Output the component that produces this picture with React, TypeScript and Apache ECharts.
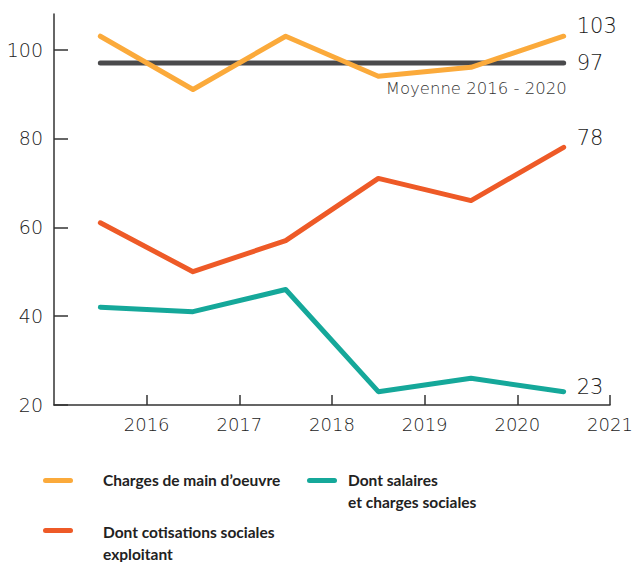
import React, { useEffect, useRef } from "react";
import * as echarts from "echarts";

// Positions on the time axis (mid-year) and the three cost series
const periods = [2015.5, 2016.5, 2017.5, 2018.5, 2019.5, 2020.5];
const chargesMainOeuvre = [103, 91, 103, 94, 96, 103];
const cotisationsExploitant = [61, 50, 57, 71, 66, 78];
const salairesCharges = [42, 41, 46, 23, 26, 23];
const moyenne = 97;
const moyenneLabel = "Moyenne 2016 - 2020";
const yearTicks = [2016, 2017, 2018, 2019, 2020, 2021];
const valueTicks = [20, 40, 60, 80, 100];

const legendItems = [
  { name: "Charges de main d’oeuvre", color: "#FBAA3B" },
  { name: "Dont cotisations sociales\nexploitant", color: "#EE5A27" },
  { name: "Dont salaires\net charges sociales", color: "#15A89A" },
];

const FONT = "Lato";
const NUM_FONT = "DejaVu Sans";

const toPoints = (values: number[]) => values.map((v, i) => [periods[i], v]);

export default function App() {
  const ref = useRef<HTMLDivElement>(null);

  useEffect(() => {
    document.body.style.margin = "0";
    if (!ref.current) return;
    const chart = echarts.init(ref.current, undefined, { renderer: "svg" });

    const lineBase = (color: string, endOffset: number) => ({
      type: "line",
      showSymbol: false,
      symbol: "none",
      lineStyle: { width: 5, color, cap: "round", join: "round" },
      itemStyle: { color },
      silent: true,
      endLabel: {
        show: true,
        distance: 13,
        offset: [0, endOffset],
        formatter: (p: any) => String(p.value[1]),
        fontFamily: NUM_FONT,
        fontWeight: 200,
        fontSize: 21,
        color: "#1a1a1a",
      },
    });

    const last = periods.length - 1;

    const legendGraphics: any[] = [
      { type: "rect", shape: { x: 43, y: 478, width: 30, height: 5, r: 2.5 }, style: { fill: legendItems[0].color } },
      { type: "text", x: 103, y: 480, style: { text: legendItems[0].name, fontFamily: FONT, fontWeight: "bold", fontSize: 15.5, fill: "#222", verticalAlign: "middle" } },
      { type: "rect", shape: { x: 43, y: 528, width: 30, height: 5, r: 2.5 }, style: { fill: legendItems[1].color } },
      { type: "text", x: 103, y: 521, style: { text: legendItems[1].name, fontFamily: FONT, fontWeight: "bold", fontSize: 15.5, lineHeight: 22, fill: "#222", verticalAlign: "top" } },
      { type: "rect", shape: { x: 307, y: 478, width: 30, height: 5, r: 2.5 }, style: { fill: legendItems[2].color } },
      { type: "text", x: 348, y: 469, style: { text: legendItems[2].name, fontFamily: FONT, fontWeight: "bold", fontSize: 15.5, lineHeight: 22, fill: "#222", verticalAlign: "top" } },
    ];

    chart.setOption({
      animation: false,
      backgroundColor: "#ffffff",
      grid: { left: 54, right: 27, top: 14, bottom: 157, outerBoundsMode: "none" },
      xAxis: {
        type: "value",
        min: 2015,
        max: 2021,
        splitLine: { show: false },
        axisLine: { show: true, lineStyle: { color: "#333", width: 1.5 } },
        axisTick: { show: true, inside: true, length: 10, customValues: yearTicks, lineStyle: { color: "#333", width: 1.5 } },
        axisLabel: { customValues: yearTicks, margin: 10, fontFamily: NUM_FONT, fontWeight: 200, fontSize: 18, color: "#222", formatter: (v: number) => String(v) },
      },
      yAxis: {
        type: "value",
        min: 20,
        max: 108,
        splitLine: { show: false },
        axisLine: { show: true, lineStyle: { color: "#333", width: 1.5 } },
        axisTick: { show: true, inside: true, length: 14, customValues: valueTicks, lineStyle: { color: "#333", width: 1.5 } },
        axisLabel: { customValues: valueTicks, margin: 11, fontFamily: NUM_FONT, fontWeight: 200, fontSize: 19, color: "#222" },
      },
      series: [
        {
          ...lineBase("#4A4A4C", 0),
          name: moyenneLabel,
          data: [
            [periods[0], moyenne],
            [periods[last], moyenne],
          ],
          markPoint: {
            symbol: "circle",
            symbolSize: 0,
            silent: true,
            data: [
              {
                coord: [periods[last], moyenne],
                label: {
                  show: true,
                  position: [3, 17],
                  align: "right",
                  verticalAlign: "top",
                  formatter: moyenneLabel,
                  fontFamily: NUM_FONT,
                  fontWeight: 200,
                  fontSize: 16.5,
                  color: "#333",
                },
              },
            ],
          },
        },
        { ...lineBase(legendItems[0].color, -10), name: legendItems[0].name, data: toPoints(chargesMainOeuvre) },
        { ...lineBase(legendItems[1].color, -9), name: legendItems[1].name, data: toPoints(cotisationsExploitant) },
        { ...lineBase(legendItems[2].color, -5), name: legendItems[2].name, data: toPoints(salairesCharges) },
      ],
      graphic: legendGraphics,
    });

    return () => chart.dispose();
  }, []);

  return <div ref={ref} style={{ width: 637, height: 562 }} />;
}
